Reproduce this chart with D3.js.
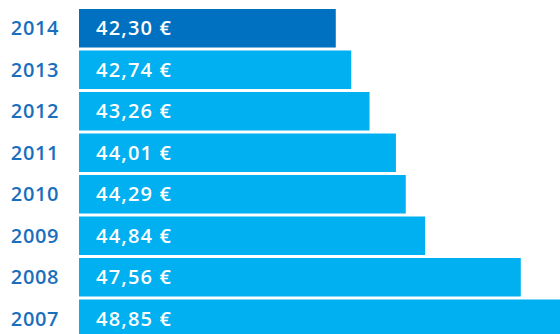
<!DOCTYPE html>
<html>
<head>
<meta charset="utf-8">
<script src="https://cdn.jsdelivr.net/npm/d3@7"></script>
<style>
  html, body { margin: 0; padding: 0; background: #ffffff; }
  svg { display: block; }
</style>
</head>
<body>
<svg id="chart" width="560" height="334"></svg>
<script>
// Average price per year, newest first
const years = ["2014", "2013", "2012", "2011", "2010", "2009", "2008", "2007"];
const prices = [42.30, 42.74, 43.26, 44.01, 44.29, 44.84, 47.56, 48.85];
const highlightYear = "2014";

const rows = years.map((y, i) => ({ year: y, value: prices[i] }));

const svg = d3.select("#chart");

// Bars start from a 35 € baseline
const x = d3.scaleLinear().domain([35, 50]).range([79, 606.6]);
const y = d3.scaleBand().domain(years).range([9, 338]).paddingInner(0.072).paddingOuter(0);

const fmt = v => d3.format(".2f")(v).replace(".", ",") + " €";

svg.selectAll("rect.bar")
  .data(rows)
  .join("rect")
  .attr("class", "bar")
  .attr("x", x(35))
  .attr("y", d => y(d.year))
  .attr("width", d => x(d.value) - x(35))
  .attr("height", y.bandwidth())
  .attr("fill", d => d.year === highlightYear ? "#0070c0" : "#00b0f0");

svg.selectAll("text.val")
  .data(rows)
  .join("text")
  .attr("class", "val")
  .attr("x", x(35) + 17)
  .attr("y", d => y(d.year) + y.bandwidth() / 2)
  .attr("dy", "0.36em")
  .attr("fill", "#ffffff")
  .style("font-family", "'Open Sans', sans-serif")
  .style("font-size", "20px")
  .style("font-weight", 600)
  .style("letter-spacing", "1.2px")
  .text(d => fmt(d.value));

// Year labels on the left
const yAxis = d3.axisLeft(y).tickSize(0).tickPadding(0);
const gAxis = svg.append("g").attr("transform", "translate(59,0)").call(yAxis);
gAxis.select(".domain").remove();
gAxis.selectAll("text")
  .attr("fill", "#1a6fbd")
  .attr("dy", "0.36em")
  .style("font-family", "'Open Sans', sans-serif")
  .style("font-size", "20px")
  .style("font-weight", 600)
  .style("letter-spacing", "0.6px");
</script>
</body>
</html>
